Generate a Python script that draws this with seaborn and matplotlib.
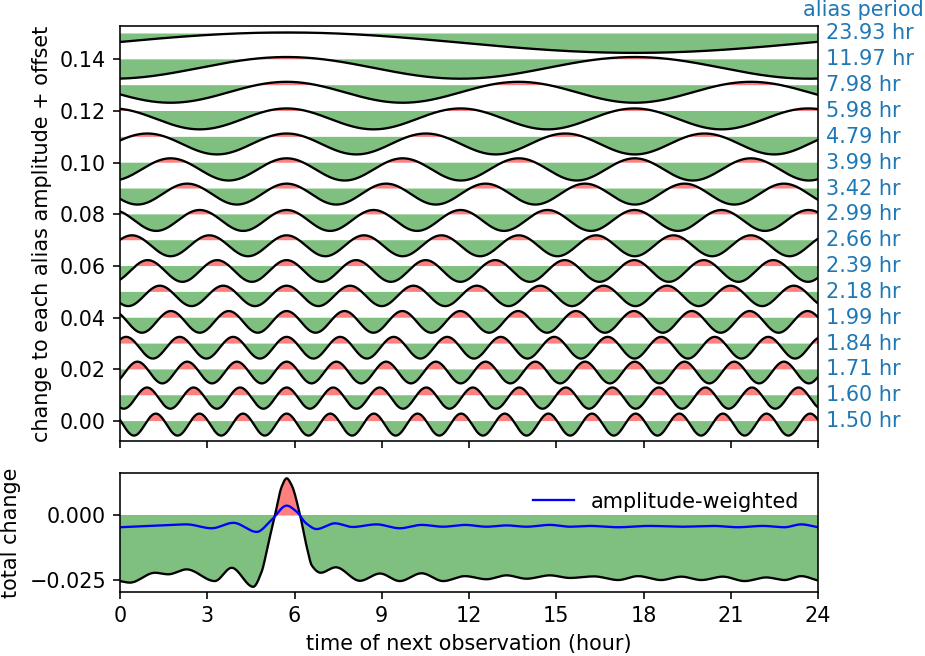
import numpy as np
import pandas as pd
import matplotlib
matplotlib.use("Agg")
import matplotlib.pyplot as plt
import matplotlib.transforms as mtransforms
import seaborn as sns

# ---------------- data ----------------
# alias periods (hours), bottom row first; row i is drawn at offset 0.01*i
periods = [1.50, 1.60, 1.71, 1.84, 1.99, 2.18, 2.39, 2.66, 2.99, 3.42,
           3.99, 4.79, 5.98, 7.98, 11.97, 23.93]
row_offsets = [0.00, 0.01, 0.02, 0.03, 0.04, 0.05, 0.06, 0.07, 0.08, 0.09,
               0.10, 0.11, 0.12, 0.13, 0.14, 0.15]
# maximum change above offset and minimum change below offset for each row
row_max = [0.0029, 0.0030, 0.0030, 0.0026, 0.0026, 0.0024, 0.0023, 0.0019,
           0.0017, 0.0019, 0.0017, 0.0013, 0.0010, 0.0013, 0.0009, 0.0004]
row_min = [-0.0056, -0.0052, -0.0054, -0.0058, -0.0058, -0.0055, -0.0061,
           -0.0062, -0.0064, -0.0062, -0.0069, -0.0068, -0.0071, -0.0068,
           -0.0075, -0.0075]
# time (hour) at which every alias curve peaks
peak_time = [5.73] * 16

# total change (black)
total_t = [0.0, 0.34, 1.2, 1.66, 2.29, 3.26, 3.84, 4.58, 4.87, 5.1, 5.33, 5.56,
           5.73, 5.9, 6.19, 6.42, 6.6, 6.9, 7.42, 8.25, 8.94, 9.62, 10.37, 11.11,
           11.86, 12.6, 13.29, 13.98, 14.78, 15.47, 16.3, 17.13, 17.81, 18.6,
           19.3, 19.99, 20.73, 21.48, 22.22, 22.85, 23.42, 24.0]
total_v = [-0.0254, -0.0260, -0.0222, -0.0228, -0.0209, -0.0254, -0.0203,
           -0.0276, -0.0218, -0.0109, 0.0, 0.0109, 0.0141, 0.0115, 0.0,
           -0.0122, -0.0195, -0.0222, -0.0201, -0.0253, -0.0225, -0.0254,
           -0.0224, -0.0254, -0.0235, -0.0247, -0.0232, -0.0245, -0.0232,
           -0.0242, -0.0236, -0.0250, -0.0235, -0.0250, -0.0237, -0.0250,
           -0.0237, -0.0254, -0.0240, -0.0250, -0.0235, -0.0252]

# amplitude-weighted change (blue)
weighted_t = [0.0, 0.97, 2.29, 3.15, 3.9, 4.7, 5.21, 5.73, 6.07, 6.4, 6.76, 7.39,
              8.0, 8.82, 9.62, 10.37, 11.11, 11.86, 12.6, 13.29, 13.98, 14.78,
              15.47, 16.15, 17.13, 18.2, 19.3, 20.4, 21.25, 22.1, 22.85, 23.42,
              24.0]
weighted_v = [-0.0047, -0.0042, -0.0036, -0.0051, -0.0030, -0.0065, -0.0019,
              0.0036, 0.0013, -0.0032, -0.0054, -0.0032, -0.0046, -0.0036,
              -0.0051, -0.0038, -0.0045, -0.0038, -0.0045, -0.0040, -0.0045,
              -0.0038, -0.0045, -0.0042, -0.0047, -0.0042, -0.0045, -0.0042,
              -0.0047, -0.0042, -0.0047, -0.0036, -0.0047]

xticks = [0, 3, 6, 9, 12, 15, 18, 21, 24]


def pchip(x, y, xn):
    x = np.asarray(x, float)
    y = np.asarray(y, float)
    h = np.diff(x)
    d = np.diff(y) / h
    m = np.zeros_like(y)
    for k in range(1, len(x) - 1):
        if d[k - 1] * d[k] > 0:
            w1 = 2 * h[k] + h[k - 1]
            w2 = h[k] + 2 * h[k - 1]
            m[k] = (w1 + w2) / (w1 / d[k - 1] + w2 / d[k])
    m[0] = d[0]
    m[-1] = d[-1]
    idx = np.clip(np.searchsorted(x, xn) - 1, 0, len(x) - 2)
    hh = h[idx]
    s = (xn - x[idx]) / hh
    h00 = 2 * s**3 - 3 * s**2 + 1
    h10 = s**3 - 2 * s**2 + s
    h01 = -2 * s**3 + 3 * s**2
    h11 = s**3 - s**2
    return h00 * y[idx] + h10 * hh * m[idx] + h01 * y[idx + 1] + h11 * hh * m[idx + 1]


plt.rcParams["font.size"] = 10.4
LW = 1.15

t = np.linspace(0, 24, 1441)

fig = plt.figure(figsize=(925 / 144, 656 / 144), dpi=144)
ax1 = fig.add_axes([120 / 925, 1 - 441 / 656, 698 / 925, 415 / 656])
ax2 = fig.add_axes([120 / 925, 1 - 592 / 656, 698 / 925, 119 / 656])

trans = mtransforms.blended_transform_factory(ax1.transAxes, ax1.transData)
for P, off, hi, lo, tp in zip(periods, row_offsets, row_max, row_min, peak_time):
    mid = (hi + lo) / 2
    amp = (hi - lo) / 2
    y = off + mid + amp * np.cos(2 * np.pi * (t - tp) / P)
    ax1.fill_between(t, off, y, where=y < off, interpolate=True,
                     color="green", alpha=0.5, lw=0)
    ax1.fill_between(t, off, y, where=y > off, interpolate=True,
                     color="red", alpha=0.5, lw=0)
    sns.lineplot(x=t, y=y, ax=ax1, color="k", lw=LW)
    ax1.text(1.012, off, f"{P:.2f} hr", transform=trans, color="C0",
             va="center", ha="left")

ax1.text(0.9785, 1.0386, "alias period", transform=ax1.transAxes, color="C0",
         va="center", ha="left")
ax1.set_xlim(0, 24)
ax1.set_ylim(-0.0077, 0.1529)
ax1.set_xticks(xticks)
ax1.tick_params(labelbottom=False)
ax1.set_ylabel("change to each alias amplitude + offset")

tot = pchip(total_t, total_v, t)
wtd = pchip(weighted_t, weighted_v, t)
ax2.fill_between(t, 0, tot, where=tot < 0, interpolate=True,
                 color="green", alpha=0.5, lw=0)
ax2.fill_between(t, 0, tot, where=tot > 0, interpolate=True,
                 color="red", alpha=0.5, lw=0)
sns.lineplot(x=t, y=tot, ax=ax2, color="k", lw=LW)
sns.lineplot(x=t, y=wtd, ax=ax2, color="blue", lw=LW, label="amplitude-weighted")
ax2.set_xlim(0, 24)
ax2.set_ylim(-0.0296, 0.01615)
ax2.set_xticks(xticks)
ax2.set_yticks([-0.025, 0.0])
ax2.set_yticklabels(["\u22120.025", "0.000"])
ax2.set_xlabel("time of next observation (hour)")
ax2.set_ylabel("total change")
ax2.legend(loc="upper right", frameon=False)

fig.savefig("out.png", dpi=144)
